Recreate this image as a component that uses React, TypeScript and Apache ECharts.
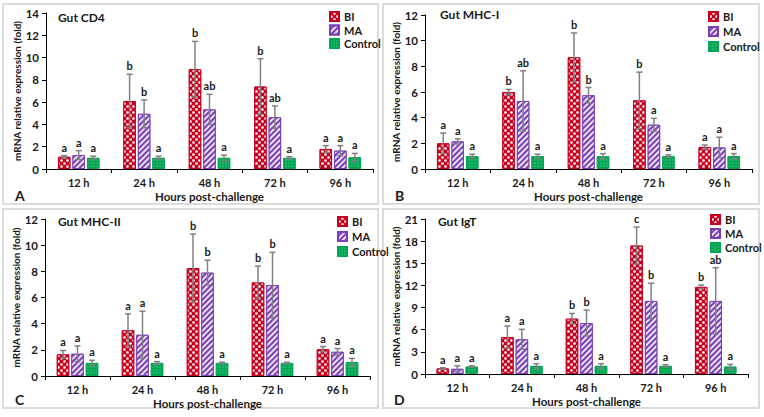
import React, { useEffect, useRef } from "react";
import * as echarts from "echarts";

const CATS = ["12 h", "24 h", "48 h", "72 h", "96 h"];
const GROUPS = ["BI", "MA", "Control"];

// Gut CD4
const CD4_BI = [1.1, 6.1, 8.95, 7.4, 1.8];
const CD4_BI_ERR = [0.1, 2.4, 2.5, 2.5, 0.3];
const CD4_BI_SIG = ["a", "b", "b", "b", "a"];
const CD4_MA = [1.25, 4.95, 5.35, 4.65, 1.65];
const CD4_MA_ERR = [0.4, 1.25, 1.35, 1.0, 0.45];
const CD4_MA_SIG = ["a", "b", "ab", "ab", "a"];
const CD4_CT = [1.0, 1.0, 1.0, 1.0, 1.05];
const CD4_CT_ERR = [0.15, 0.15, 0.25, 0.1, 0.35];
const CD4_CT_SIG = ["a", "a", "a", "a", "a"];

// Gut MHC-I
const MHCI_BI = [2.0, 6.0, 8.7, 5.35, 1.72];
const MHCI_BI_ERR = [0.8, 0.2, 1.9, 2.2, 0.15];
const MHCI_BI_SIG = ["a", "b", "b", "b", "a"];
const MHCI_MA = [2.15, 5.3, 5.75, 3.45, 1.68];
const MHCI_MA_ERR = [0.2, 2.35, 0.6, 0.5, 0.8];
const MHCI_MA_SIG = ["a", "ab", "b", "a", "a"];
const MHCI_CT = [1.0, 1.0, 1.0, 1.0, 1.0];
const MHCI_CT_ERR = [0.15, 0.15, 0.2, 0.1, 0.2];
const MHCI_CT_SIG = ["a", "a", "a", "a", "a"];

// Gut MHC-II
const MHCII_BI = [1.65, 3.5, 8.25, 7.15, 2.05];
const MHCII_BI_ERR = [0.3, 1.25, 2.6, 1.25, 0.2];
const MHCII_BI_SIG = ["a", "a", "b", "b", "a"];
const MHCII_MA = [1.7, 3.15, 7.9, 6.95, 1.85];
const MHCII_MA_ERR = [0.6, 1.8, 0.95, 2.5, 0.25];
const MHCII_MA_SIG = ["a", "a", "b", "b", "a"];
const MHCII_CT = [1.0, 1.0, 1.0, 1.0, 1.05];
const MHCII_CT_ERR = [0.2, 0.1, 0.05, 0.05, 0.3];
const MHCII_CT_SIG = ["a", "a", "a", "a", "a"];

// Gut IgT
const IGT_BI = [0.75, 5.0, 7.5, 17.4, 11.8];
const IGT_BI_ERR = [0.1, 1.5, 0.7, 2.5, 0.25];
const IGT_BI_SIG = ["a", "a", "b", "c", "b"];
const IGT_MA = [0.7, 4.7, 6.9, 9.9, 9.9];
const IGT_MA_ERR = [0.4, 1.35, 1.75, 2.4, 4.5];
const IGT_MA_SIG = ["a", "a", "b", "b", "ab"];
const IGT_CT = [1.0, 1.1, 1.1, 1.1, 1.0];
const IGT_CT_ERR = [0.1, 0.3, 0.3, 0.15, 0.3];
const IGT_CT_SIG = ["a", "a", "a", "a", "a"];

const FONT = "Lato, 'Open Sans', sans-serif";
const TXT = "#1a1a1a";
const COLORS = ["#c8001e", "#7a3fb8", "#00a651"];
const DECALS: any[] = [
  { symbol: "circle", symbolSize: 0.9, color: "rgba(255,255,255,0.95)", dashArrayX: [[3, 3], [0, 3, 3, 0]], dashArrayY: [3, 0] },
  { symbol: "rect", symbolSize: 1, color: "rgba(255,255,255,0.85)", dashArrayX: [1, 0], dashArrayY: [1.6, 2], rotation: -Math.PI / 4 },
  { symbol: "rect", symbolSize: 0.6, color: "rgba(255,255,255,0.45)", dashArrayX: [2, 1], dashArrayY: [2, 1] },
];

const BAR_W = 12.5;
const SPACING = 14.5;

const PANELS = [
  {
    title: "Gut CD4", letter: "A", max: 14, interval: 2,
    grid: { left: 46, top: 13, width: 327, height: 156 },
    legend: { left: 329, top: 11, gap: 2.5 },
    titlePos: [58, 11], letterPos: [15, 188],
    vals: [CD4_BI, CD4_MA, CD4_CT], errs: [CD4_BI_ERR, CD4_MA_ERR, CD4_CT_ERR], sigs: [CD4_BI_SIG, CD4_MA_SIG, CD4_CT_SIG],
  },
  {
    title: "Gut MHC-I", letter: "B", max: 12, interval: 2,
    grid: { left: 425, top: 15, width: 327, height: 154 },
    legend: { left: 708, top: 11, gap: 4 },
    titlePos: [440, 8], letterPos: [395, 188],
    vals: [MHCI_BI, MHCI_MA, MHCI_CT], errs: [MHCI_BI_ERR, MHCI_MA_ERR, MHCI_CT_ERR], sigs: [MHCI_BI_SIG, MHCI_MA_SIG, MHCI_CT_SIG],
  },
  {
    title: "Gut MHC-II", letter: "C", max: 12, interval: 2,
    grid: { left: 45, top: 219, width: 325, height: 157 },
    legend: { left: 337, top: 216, gap: 4 },
    titlePos: [58, 215], letterPos: [15, 392],
    vals: [MHCII_BI, MHCII_MA, MHCII_CT], errs: [MHCII_BI_ERR, MHCII_MA_ERR, MHCII_CT_ERR], sigs: [MHCII_BI_SIG, MHCII_MA_SIG, MHCII_CT_SIG],
  },
  {
    title: "Gut IgT", letter: "D", max: 21, interval: 3,
    grid: { left: 425, top: 219, width: 323, height: 155 },
    legend: { left: 710, top: 214, gap: 3 },
    titlePos: [438, 215], letterPos: [394, 392],
    vals: [IGT_BI, IGT_MA, IGT_CT], errs: [IGT_BI_ERR, IGT_MA_ERR, IGT_CT_ERR], sigs: [IGT_BI_SIG, IGT_MA_SIG, IGT_CT_SIG],
  },
];

function buildOption() {
  const grid: any[] = [];
  const xAxis: any[] = [];
  const yAxis: any[] = [];
  const series: any[] = [];
  const legend: any[] = [];
  const graphic: any[] = [];

  const borders = [
    [3, 4, 375, 200],
    [383, 4, 376, 200],
    [3, 209, 375, 199],
    [383, 209, 376, 199],
  ];
  borders.forEach((b) =>
    graphic.push({ type: "rect", shape: { x: b[0], y: b[1], width: b[2], height: b[3] }, style: { fill: "#fff", stroke: "#dcdcdc", lineWidth: 2 }, z: -10 })
  );

  PANELS.forEach((p, i) => {
    grid.push({ ...p.grid, containLabel: false });
    xAxis.push({
      type: "category", gridIndex: i, data: CATS,
      axisLine: { lineStyle: { color: "#000", width: 1 } },
      axisTick: { show: true, alignWithLabel: false, length: 4, lineStyle: { color: "#000" } },
      axisLabel: { color: TXT, fontWeight: "bold", fontSize: 11, fontFamily: FONT, margin: 8 },
      name: "Hours post-challenge", nameLocation: "middle", nameGap: 21,
      nameTextStyle: { color: TXT, fontWeight: "bold", fontSize: 11.5, fontFamily: FONT },
    });
    yAxis.push({
      type: "value", gridIndex: i, min: 0, max: p.max, interval: p.interval,
      axisLine: { show: true, lineStyle: { color: "#000", width: 1 } },
      axisTick: { show: true, length: 4, lineStyle: { color: "#000" } },
      splitLine: { show: false },
      axisLabel: { color: TXT, fontWeight: "bold", fontSize: 11.5, fontFamily: FONT, margin: 7 },
      name: "mRNA relative expression (fold)", nameLocation: "middle", nameGap: 24, nameRotate: 90,
      nameTextStyle: { color: TXT, fontWeight: "bold", fontSize: 10, fontFamily: FONT },
    });
    GROUPS.forEach((g, j) => {
      series.push({
        type: "bar", name: g, xAxisIndex: i, yAxisIndex: i,
        data: p.vals[j], barWidth: BAR_W, barGap: "16%",
        itemStyle: { color: COLORS[j], borderColor: COLORS[j], borderWidth: 1, decal: DECALS[j] },
        z: 2,
      });
    });
    GROUPS.forEach((g, j) => {
      const offset = (j - 1) * SPACING;
      const sig = p.sigs[j];
      series.push({
        type: "custom", name: g + " err", xAxisIndex: i, yAxisIndex: i,
        data: p.vals[j].map((v, k) => [k, v, p.errs[j][k]]),
        encode: { x: 0, y: 1 }, z: 5, silent: true,
        renderItem: (params: any, api: any) => {
          const k = api.value(0), v = api.value(1), e = api.value(2);
          const c = api.coord([k, v]);
          const x = c[0] + offset;
          const yTop = api.coord([k, v + e])[1];
          const yBot = api.coord([k, Math.max(0, v - e)])[1];
          const style = { stroke: "#808080", lineWidth: 1.5 };
          return {
            type: "group",
            children: [
              { type: "line", shape: { x1: x, y1: yTop, x2: x, y2: yBot }, style },
              { type: "line", shape: { x1: x - 3, y1: yTop, x2: x + 3, y2: yTop }, style },
              { type: "line", shape: { x1: x - 3, y1: yBot, x2: x + 3, y2: yBot }, style },
              { type: "text", style: { text: sig[k], x, y: yTop - 3, align: "center", verticalAlign: "bottom", fill: TXT, fontSize: 11, fontWeight: "bold", fontFamily: FONT } },
            ],
          };
        },
      });
    });
    legend.push({
      data: GROUPS, orient: "vertical", left: p.legend.left, top: p.legend.top,
      itemWidth: 9, itemHeight: 9, itemGap: p.legend.gap, icon: "rect", padding: 0,
      selectedMode: false,
      textStyle: { color: TXT, fontWeight: "bold", fontSize: 11, fontFamily: FONT, lineHeight: 9 },
    });
    graphic.push({ type: "text", left: p.titlePos[0], top: p.titlePos[1], style: { text: p.title, fill: TXT, fontSize: 12, fontWeight: "bold", fontFamily: FONT }, z: 10 });
    graphic.push({ type: "text", left: p.letterPos[0], top: p.letterPos[1], style: { text: p.letter, fill: TXT, fontSize: 14, fontWeight: "bold", fontFamily: FONT }, z: 10 });
  });

  return { animation: false, backgroundColor: "#fff", grid, xAxis, yAxis, series, legend, graphic };
}

export default function App() {
  const ref = useRef<HTMLDivElement>(null);
  useEffect(() => {
    if (!ref.current) return;
    const chart = echarts.init(ref.current, null, { renderer: "svg" });
    chart.setOption(buildOption() as any);
    return () => chart.dispose();
  }, []);
  return <div ref={ref} style={{ position: "absolute", left: 0, top: 0, width: 764, height: 417 }} />;
}
